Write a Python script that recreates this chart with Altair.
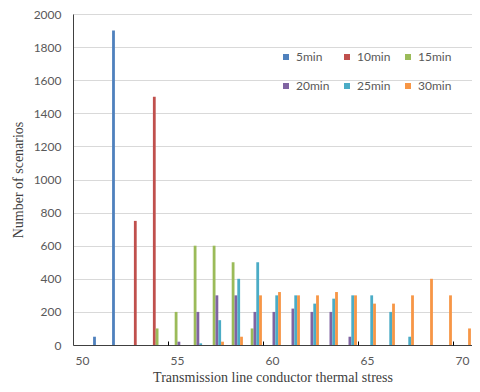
import altair as alt
import pandas as pd

categories = list(range(50, 71))
series = ["5min", "10min", "15min", "20min", "25min", "30min"]
colors = ["#4F81BD", "#C0504D", "#9BBB59", "#8064A2", "#4BACC6", "#F79646"]

#            50  51    52   53   54   55   56   57   58   59   60   61   62   63   64   65   66   67   68   69   70
s5min  = [0, 50, 1900, 0, 0, 0, 0, 0, 0, 0, 0, 0, 0, 0, 0, 0, 0, 0, 0, 0, 0]
s10min = [0, 0, 0, 750, 1500, 0, 0, 0, 0, 0, 0, 0, 0, 0, 0, 0, 0, 0, 0, 0, 0]
s15min = [0, 0, 0, 0, 100, 200, 600, 600, 500, 100, 0, 0, 0, 0, 0, 0, 0, 0, 0, 0, 0]
s20min = [0, 0, 0, 0, 0, 20, 200, 300, 300, 200, 200, 220, 200, 200, 50, 0, 0, 0, 0, 0, 0]
s25min = [0, 0, 0, 0, 0, 0, 10, 150, 400, 500, 300, 300, 250, 280, 300, 300, 200, 50, 0, 0, 0]
s30min = [0, 0, 0, 0, 0, 0, 0, 20, 50, 300, 320, 300, 300, 320, 300, 250, 250, 300, 400, 300, 100]

x_labels = [50, 55, 60, 65, 70]
x_ticks = [55, 60, 65, 70]
y_ticks = list(range(0, 2001, 200))

rows = []
for name, vals in zip(series, [s5min, s10min, s15min, s20min, s25min, s30min]):
    for c, v in zip(categories, vals):
        rows.append({"stress": c, "series": name, "count": v})
df = pd.DataFrame(rows)

x_scale = alt.Scale(domain=categories, paddingInner=0, paddingOuter=0)
xoff_scale = alt.Scale(domain=series, paddingInner=0, paddingOuter=0.39)

color = alt.Color(
    "series:N",
    scale=alt.Scale(domain=series, range=colors),
    legend=alt.Legend(
        title=None,
        orient="none",
        legendX=207,
        legendY=37,
        direction="horizontal",
        columns=3,
        symbolType="square",
        symbolSize=36,
        symbolStrokeWidth=0,
        labelFont="Lato",
        labelFontSize=12,
        labelColor="#595959",
        labelOffset=4,
        columnPadding=11,
        rowPadding=17,
        gridAlign="all",
        padding=0,
    ),
)

y_enc = alt.Y(
    "count:Q",
    scale=alt.Scale(domain=[0, 2000]),
    axis=alt.Axis(
        values=y_ticks,
        format="d",
        title="Number of scenarios",
        titleFont="Liberation Serif",
        titleFontSize=14,
        titleFontWeight="normal",
        titleColor="#404040",
        titlePadding=8,
        labelFont="Lato",
        labelFontSize=12,
        labelColor="#595959",
        labelPadding=12,
        ticks=False,
        domainColor="#404040",
        gridColor="#D9D9D9",
    ),
)

bars = (
    alt.Chart(df)
    .transform_filter("datum.count > 0")
    .mark_bar()
    .encode(
        x=alt.X(
            "stress:O",
            scale=x_scale,
            sort=categories,
            axis=alt.Axis(
                values=x_labels,
                labelAngle=0,
                ticks=False,
                grid=False,
                orient="bottom",
                title="Transmission line conductor thermal stress",
                titleFont="Liberation Serif",
                titleFontSize=14,
                titleFontWeight="normal",
                titleColor="#404040",
                titlePadding=4,
                labelFont="Lato",
                labelFontSize=12,
                labelColor="#595959",
                labelPadding=10,
                domainColor="#404040",
            ),
        ),
        xOffset=alt.XOffset("series:N", scale=xoff_scale, sort=series),
        y=y_enc,
        color=color,
    )
)

tick_layer = bars.mark_bar(opacity=0).encode(
    x=alt.X(
        "stress:O",
        scale=x_scale,
        sort=categories,
        axis=alt.Axis(
            values=x_ticks,
            bandPosition=0,
            labels=False,
            domain=False,
            grid=False,
            title=None,
            orient="bottom",
            offset=-4,
            tickSize=4,
            tickColor="#000000",
            zindex=1,
        ),
    )
)

chart = (
    alt.layer(bars, tick_layer)
    .resolve_axis(x="independent")
    .properties(
        width=399,
        height=331,
        autosize=alt.AutoSizeParams(type="none"),
        padding={"left": 65, "top": 6, "right": 0, "bottom": 39},
    )
    .configure_view(stroke="#595959", strokeWidth=1)
    .configure(background="white")
)

chart.save("out.html", embed_options={"renderer": "svg", "actions": False})
